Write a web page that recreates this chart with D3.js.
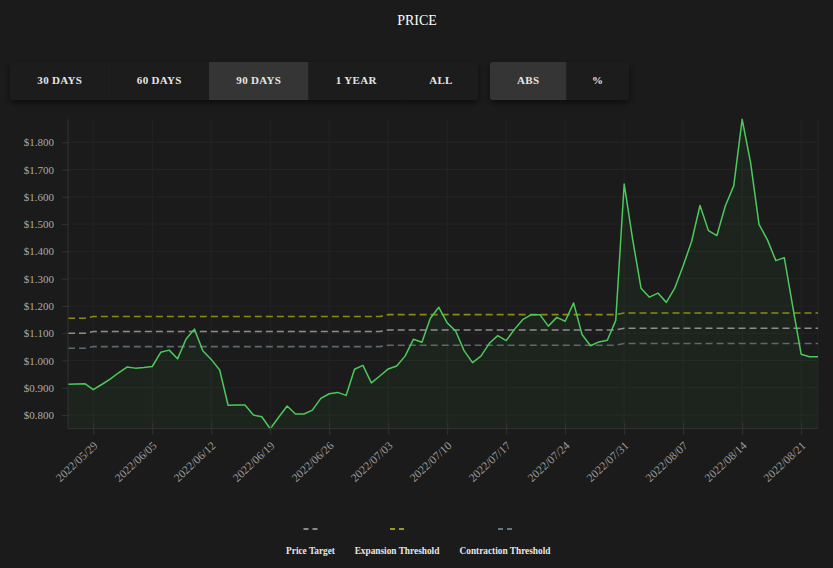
<!DOCTYPE html>
<html><head><meta charset="utf-8">
<script src="https://cdn.jsdelivr.net/npm/d3@7"></script>
<style>
html,body{margin:0;padding:0;background:#1b1b1b;}
svg{display:block;}
text{font-family:"Liberation Serif","Times New Roman",serif;}
</style></head><body>
<svg id="c" width="833" height="568"></svg>
<script>
const title = "PRICE";
const rangeButtons = ["30 DAYS","60 DAYS","90 DAYS","1 YEAR","ALL"];
const modeButtons = ["ABS","%"];
const activeRange = "90 DAYS";
const activeMode = "ABS";
const legendLabels = ["Price Target","Expansion Threshold","Contraction Threshold"];

const dates = [
"2022-05-26","2022-05-27","2022-05-28","2022-05-29","2022-05-30","2022-05-31",
"2022-06-01","2022-06-02","2022-06-03","2022-06-04","2022-06-05","2022-06-06","2022-06-07","2022-06-08","2022-06-09","2022-06-10",
"2022-06-11","2022-06-12","2022-06-13","2022-06-14","2022-06-15","2022-06-16","2022-06-17","2022-06-18","2022-06-19","2022-06-20",
"2022-06-21","2022-06-22","2022-06-23","2022-06-24","2022-06-25","2022-06-26","2022-06-27","2022-06-28","2022-06-29","2022-06-30",
"2022-07-01","2022-07-02","2022-07-03","2022-07-04","2022-07-05","2022-07-06","2022-07-07","2022-07-08","2022-07-09","2022-07-10",
"2022-07-11","2022-07-12","2022-07-13","2022-07-14","2022-07-15","2022-07-16","2022-07-17","2022-07-18","2022-07-19","2022-07-20",
"2022-07-21","2022-07-22","2022-07-23","2022-07-24","2022-07-25","2022-07-26","2022-07-27","2022-07-28","2022-07-29","2022-07-30",
"2022-07-31","2022-08-01","2022-08-02","2022-08-03","2022-08-04","2022-08-05","2022-08-06","2022-08-07","2022-08-08","2022-08-09",
"2022-08-10","2022-08-11","2022-08-12","2022-08-13","2022-08-14","2022-08-15","2022-08-16","2022-08-17","2022-08-18","2022-08-19",
"2022-08-20","2022-08-21","2022-08-22","2022-08-23"];

const price = [
0.913,0.914,0.915,0.893,0.912,0.932,
0.955,0.976,0.972,0.974,0.978,1.030,1.038,1.006,1.078,1.115,
1.036,1.004,0.965,0.836,0.837,0.837,0.800,0.794,0.750,0.792,
0.833,0.804,0.804,0.818,0.861,0.878,0.883,0.872,0.968,0.982,
0.918,0.943,0.969,0.980,1.016,1.078,1.067,1.155,1.195,1.138,
1.108,1.036,0.992,1.016,1.063,1.091,1.073,1.115,1.151,1.168,
1.168,1.126,1.158,1.144,1.211,1.095,1.054,1.068,1.074,1.147,
1.647,1.445,1.265,1.232,1.247,1.213,1.265,1.347,1.436,1.568,
1.476,1.458,1.566,1.640,1.884,1.725,1.499,1.442,1.366,1.377,
1.198,1.023,1.014,1.014];

const priceTarget = [
1.100,1.100,1.100,1.106,1.106,1.106,
1.106,1.106,1.106,1.106,1.106,1.106,1.106,1.106,1.106,1.106,
1.106,1.106,1.106,1.106,1.106,1.106,1.106,1.106,1.106,1.106,
1.106,1.106,1.106,1.106,1.106,1.106,1.106,1.106,1.106,1.106,
1.106,1.106,1.112,1.112,1.112,1.112,1.112,1.112,1.112,1.112,
1.112,1.112,1.112,1.112,1.112,1.112,1.112,1.112,1.112,1.112,
1.112,1.112,1.112,1.112,1.112,1.112,1.112,1.112,1.112,1.112,
1.118,1.118,1.118,1.118,1.118,1.118,1.118,1.118,1.118,1.118,
1.118,1.118,1.118,1.118,1.118,1.118,1.118,1.118,1.118,1.118,
1.118,1.118,1.118,1.118];

const expansion = [
1.155,1.155,1.155,1.161,1.161,1.161,
1.161,1.161,1.161,1.161,1.161,1.161,1.161,1.161,1.161,1.161,
1.161,1.161,1.161,1.161,1.161,1.161,1.161,1.161,1.161,1.161,
1.161,1.161,1.161,1.161,1.161,1.161,1.161,1.161,1.161,1.161,
1.161,1.161,1.168,1.168,1.168,1.168,1.168,1.168,1.168,1.168,
1.168,1.168,1.168,1.168,1.168,1.168,1.168,1.168,1.168,1.168,
1.168,1.168,1.168,1.168,1.168,1.168,1.168,1.168,1.168,1.168,
1.174,1.174,1.174,1.174,1.174,1.174,1.174,1.174,1.174,1.174,
1.174,1.174,1.174,1.174,1.174,1.174,1.174,1.174,1.174,1.174,
1.174,1.174,1.174,1.174];

const contraction = [
1.045,1.045,1.045,1.051,1.051,1.051,
1.051,1.051,1.051,1.051,1.051,1.051,1.051,1.051,1.051,1.051,
1.051,1.051,1.051,1.051,1.051,1.051,1.051,1.051,1.051,1.051,
1.051,1.051,1.051,1.051,1.051,1.051,1.051,1.051,1.051,1.051,
1.051,1.051,1.056,1.056,1.056,1.056,1.056,1.056,1.056,1.056,
1.056,1.056,1.056,1.056,1.056,1.056,1.056,1.056,1.056,1.056,
1.056,1.056,1.056,1.056,1.056,1.056,1.056,1.056,1.056,1.056,
1.062,1.062,1.062,1.062,1.062,1.062,1.062,1.062,1.062,1.062,
1.062,1.062,1.062,1.062,1.062,1.062,1.062,1.062,1.062,1.062,
1.062,1.062,1.062,1.062];

const yTicks = [0.8,0.9,1.0,1.1,1.2,1.3,1.4,1.5,1.6,1.7,1.8];
const xTicks = ["2022-05-29","2022-06-05","2022-06-12","2022-06-19","2022-06-26","2022-07-03","2022-07-10",
"2022-07-17","2022-07-24","2022-07-31","2022-08-07","2022-08-14","2022-08-21"];

const parse = d3.timeParse("%Y-%m-%d");
const svg = d3.select("#c");

// defs
const defs = svg.append("defs");
const f = defs.append("filter").attr("id","sh").attr("x","-10%").attr("y","-30%").attr("width","120%").attr("height","180%");
f.append("feDropShadow").attr("dx",0).attr("dy",3).attr("stdDeviation",3).attr("flood-color","#000").attr("flood-opacity",0.55);
const f2 = defs.append("filter").attr("id","bsh").attr("x","-20%").attr("y","-20%").attr("width","140%").attr("height","140%");
f2.append("feDropShadow").attr("dx",1).attr("dy",0).attr("stdDeviation",1.5).attr("flood-color","#000").attr("flood-opacity",0.35);
const clip = defs.append("clipPath").attr("id","cg1");
clip.append("rect").attr("x",10).attr("y",62).attr("width",468).attr("height",38).attr("rx",3);
const clip2 = defs.append("clipPath").attr("id","cg2");
clip2.append("rect").attr("x",490).attr("y",62).attr("width",139).attr("height",38).attr("rx",3);

// title
svg.append("text").attr("x",417).attr("y",25).attr("text-anchor","middle")
  .attr("fill","#ffffff").style("font-size","14px").text(title);

// buttons
function buttonGroup(labels, x0, widths, active, clipId){
  const total = d3.sum(widths);
  svg.append("rect").attr("x",x0).attr("y",62).attr("width",total).attr("height",38).attr("rx",3)
    .attr("fill","#1e1e1e").attr("filter","url(#sh)");
  const g = svg.append("g").attr("clip-path",`url(#${clipId})`);
  let x = x0;
  labels.forEach((l,i)=>{
    const w = widths[i];
    g.append("rect").attr("x",x).attr("y",62).attr("width",w).attr("height",38)
      .attr("fill", l===active ? "#353535" : "#1e1e1e").attr("filter","url(#bsh)");
    g.append("text").attr("x",x+w/2).attr("y",83.5).attr("text-anchor","middle")
      .attr("fill","#e6e6e6").style("font-size","11px").style("font-weight","bold")
      .style("letter-spacing","0.3px").text(l);
    x += w;
  });
}
buttonGroup(rangeButtons, 10, [99.5,99.5,99.5,95.5,74], activeRange, "cg1");
buttonGroup(modeButtons, 490, [76.5,62.5], activeMode, "cg2");

// chart
const X0 = 68, X1 = 818, Ytop = 119.3, Ybot = 428.7;
const x = d3.scaleTime().domain([parse(dates[0]), parse(dates[dates.length-1])]).range([X0, X1]);
const y = d3.scaleLinear().domain(d3.extent(price)).range([Ybot, Ytop]);

const grid = svg.append("g");
grid.selectAll(".hg").data(yTicks).enter().append("line")
  .attr("x1",X0).attr("x2",X1).attr("y1",d=>y(d)).attr("y2",d=>y(d))
  .attr("stroke","#242424").attr("stroke-width",1);
grid.selectAll(".vg").data(xTicks).enter().append("line")
  .attr("x1",d=>x(parse(d))).attr("x2",d=>x(parse(d))).attr("y1",Ytop).attr("y2",Ybot)
  .attr("stroke","#242424").attr("stroke-width",1);
grid.append("line").attr("x1",X1).attr("x2",X1).attr("y1",Ytop).attr("y2",Ybot).attr("stroke","#242424");

// area + line
const pts = dates.map((d,i)=>({d:parse(d), v:price[i]}));
svg.append("path").datum(pts)
  .attr("d", d3.area().x(p=>x(p.d)).y0(Ybot).y1(p=>y(p.v)))
  .attr("fill","rgba(76,201,91,0.055)");

function dashed(arr, color){
  svg.append("path").datum(dates.map((d,i)=>({d:parse(d), v:arr[i]})))
    .attr("d", d3.line().x(p=>x(p.d)).y(p=>y(p.v)))
    .attr("fill","none").attr("stroke",color).attr("stroke-width",1.6)
    .attr("stroke-dasharray","7,4");
}
dashed(expansion, "#8a8a14");
dashed(priceTarget, "#8e8e8e");
dashed(contraction, "#5a6a70");

svg.append("path").datum(pts)
  .attr("d", d3.line().x(p=>x(p.d)).y(p=>y(p.v)))
  .attr("fill","none").attr("stroke","#4cc95b").attr("stroke-width",1.5).attr("stroke-linejoin","round");

// axes
const ya = svg.append("g").attr("transform",`translate(${X0},0)`)
  .call(d3.axisLeft(y).tickValues(yTicks).tickFormat(d=>"$"+d.toFixed(3)).tickSize(6).tickPadding(8));
ya.select(".domain").attr("stroke","#333").attr("d",`M0,${Ytop}V${Ybot}`);
ya.selectAll(".tick line").attr("stroke","#333");
ya.selectAll(".tick text").attr("fill","#aaaaaa").style("font-size","11px")
  .style("font-family","'Liberation Serif',serif");

const xa = svg.append("g").attr("transform",`translate(0,${Ybot})`)
  .call(d3.axisBottom(x).tickValues(xTicks.map(parse)).tickFormat(d3.timeFormat("%Y/%m/%d")).tickSize(6));
xa.select(".domain").attr("stroke","#333").attr("d",`M${X0},0H${X1}`);
xa.selectAll(".tick line").attr("stroke","#333").attr("y1",-6);
xa.selectAll(".tick text").attr("fill","#9a9a9a").style("font-size","11.5px")
  .style("font-family","'Liberation Serif',serif")
  .attr("x",0).attr("y",0).attr("dy","0.35em").attr("text-anchor","end")
  .attr("transform","translate(2,15) rotate(-43)");

// legend
const legColors = ["#8a8a8a","#9a9a1a","#5f7a80"];
const legX = [310.5, 397, 505];
legendLabels.forEach((l,i)=>{
  svg.append("line").attr("x1",legX[i]-7).attr("x2",legX[i]+7).attr("y1",529).attr("y2",529)
    .attr("stroke",legColors[i]).attr("stroke-width",2.2).attr("stroke-dasharray","5,4");
  svg.append("text").attr("x",legX[i]).attr("y",554).attr("text-anchor","middle")
    .attr("fill","#e6e6e6").style("font-size","9.3px").style("font-weight","bold").text(l);
});
</script>
</body></html>
